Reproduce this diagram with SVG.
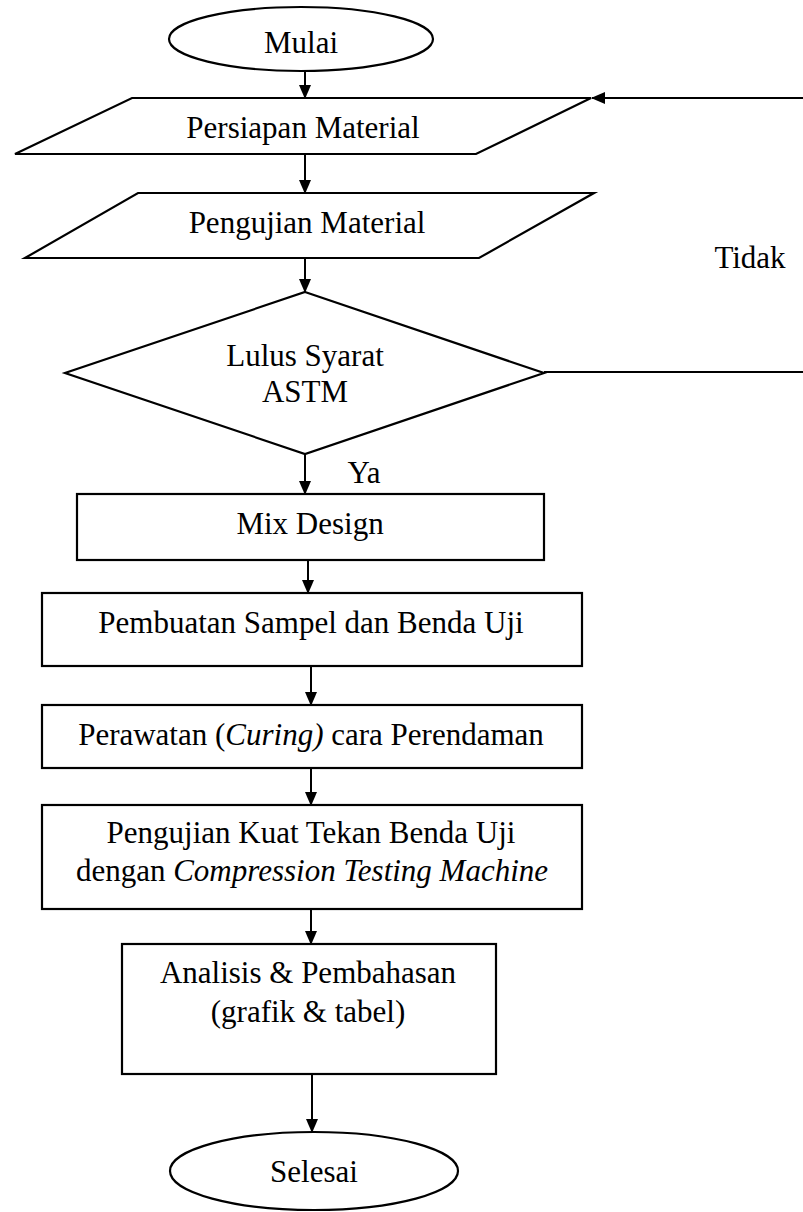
<svg xmlns="http://www.w3.org/2000/svg" width="803" height="1212" viewBox="0 0 803 1212">
<style>
.s{fill:#fff;stroke:#000;stroke-width:2.2}
.t{font-family:"Liberation Serif","Times New Roman",serif;font-size:31px;fill:#000;text-anchor:middle}
.l{fill:none;stroke:#000;stroke-width:2}
.i{font-style:italic}
</style>
<defs>
<marker id="ah" markerWidth="14" markerHeight="12" refX="13" refY="6" orient="auto" markerUnits="userSpaceOnUse">
<path d="M0,0 L14,6 L0,12 Z" fill="#000"/>
</marker>
</defs>
<rect width="803" height="1212" fill="#fff"/>
<g id="connectors">
<line class="l" x1="305" y1="70" x2="305" y2="98" marker-end="url(#ah)"/>
<line class="l" x1="305" y1="154" x2="305" y2="193" marker-end="url(#ah)"/>
<line class="l" x1="305" y1="258" x2="305" y2="292" marker-end="url(#ah)"/>
<line class="l" x1="305" y1="454" x2="305" y2="494" marker-end="url(#ah)"/>
<line class="l" x1="308" y1="560" x2="308" y2="593" marker-end="url(#ah)"/>
<line class="l" x1="311" y1="666" x2="311" y2="705" marker-end="url(#ah)"/>
<line class="l" x1="311" y1="768" x2="311" y2="805" marker-end="url(#ah)"/>
<line class="l" x1="311" y1="909" x2="311" y2="944" marker-end="url(#ah)"/>
<line class="l" x1="312" y1="1074" x2="312" y2="1132" marker-end="url(#ah)"/>
<line class="l" x1="544" y1="372" x2="803" y2="372"/>
<line class="l" x1="803" y1="98" x2="592" y2="98" marker-end="url(#ah)"/>
<text class="t" x="364" y="483">Ya</text>
<text class="t" x="750" y="268">Tidak</text>
</g>
<g id="mulai">
<ellipse class="s" cx="301" cy="39" rx="132" ry="32"/>
<text class="t" x="301" y="53">Mulai</text>
</g>
<g id="persiapan">
<polygon class="s" points="132,98 591,98 476,154 15,154"/>
<text class="t" x="303" y="138">Persiapan Material</text>
</g>
<g id="pengujian">
<polygon class="s" points="138,193 594,193 479,258 25,258"/>
<text class="t" x="307" y="233">Pengujian Material</text>
</g>
<g id="lulus">
<polygon class="s" points="305,292 544,373 305,454 65,373"/>
<text class="t" x="305" y="366">Lulus Syarat</text>
<text class="t" x="305" y="402">ASTM</text>
</g>
<g id="mix">
<rect class="s" x="77" y="494" width="467" height="66"/>
<text class="t" x="310" y="534">Mix Design</text>
</g>
<g id="pembuatan">
<rect class="s" x="42" y="593" width="540" height="73"/>
<text class="t" x="311" y="633">Pembuatan Sampel dan Benda Uji</text>
</g>
<g id="perawatan">
<rect class="s" x="42" y="705" width="540" height="63"/>
<text class="t" x="311" y="745">Perawatan (<tspan class="i">Curing)</tspan> cara Perendaman</text>
</g>
<g id="pengujian-kuat">
<rect class="s" x="42" y="805" width="540" height="104"/>
<text class="t" x="311" y="843">Pengujian Kuat Tekan Benda Uji</text>
<text class="t" x="312" y="881">dengan <tspan class="i">Compression Testing Machine</tspan></text>
</g>
<g id="analisis">
<rect class="s" x="122" y="944" width="374" height="130"/>
<text class="t" x="308" y="983">Analisis &amp; Pembahasan</text>
<text class="t" x="308" y="1022">(grafik &amp; tabel)</text>
</g>
<g id="selesai">
<ellipse class="s" cx="314" cy="1171" rx="144" ry="39"/>
<text class="t" x="314" y="1182">Selesai</text>
</g>
</svg>
